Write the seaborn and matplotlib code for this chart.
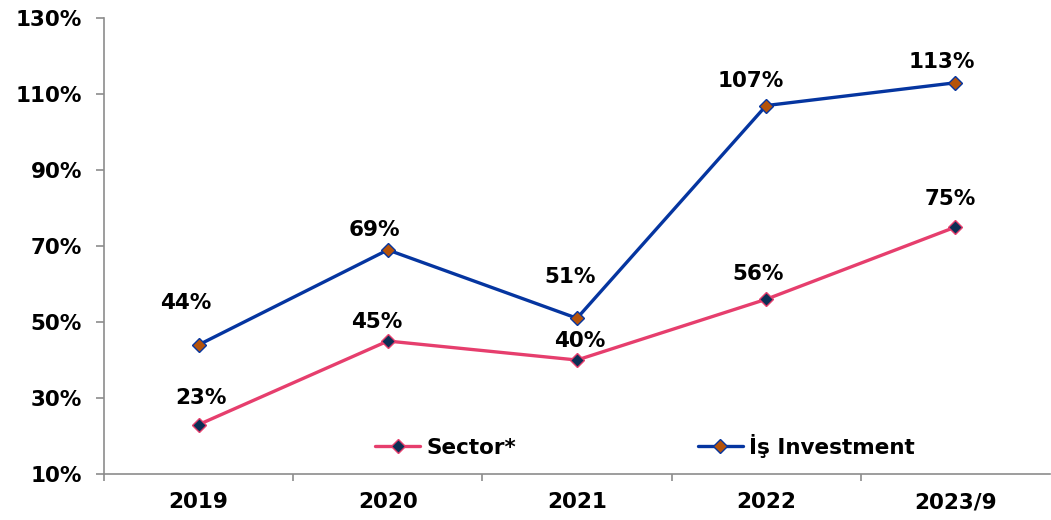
import matplotlib
matplotlib.use("Agg")
import matplotlib.pyplot as plt
import seaborn as sns
import pandas as pd
from matplotlib.ticker import FixedLocator

years = ["2019", "2020", "2021", "2022", "2023/9"]
sector = [23, 45, 40, 56, 75]
is_inv = [44, 69, 51, 107, 113]
series_names = ["Sector*", "İş Investment"]
y_ticks = [10, 30, 50, 70, 90, 110, 130]

sns.set_style("white")
plt.rcParams["font.family"] = ["DejaVu Sans"]
plt.rcParams["font.weight"] = "bold"
plt.rcParams["text.color"] = "black"
plt.rcParams["xtick.color"] = "black"
plt.rcParams["ytick.color"] = "black"

FS = 15.5

fig = plt.figure(figsize=(10.51, 5.2), dpi=100)
ax = fig.add_axes([0.099, 0.0885, 0.9, 0.8765])

pos = list(range(len(years)))
df_s = pd.DataFrame({"x": pos, "y": sector})
df_i = pd.DataFrame({"x": pos, "y": is_inv})

pink = "#E63E6D"
blue = "#0535A0"
sns.lineplot(data=df_s, x="x", y="y", ax=ax, color=pink, lw=2.4, marker="D",
             markersize=7.5, label=series_names[0])
sns.lineplot(data=df_i, x="x", y="y", ax=ax, color=blue, lw=2.4, marker="D",
             markersize=7.5, label=series_names[1])
styles = [("#0C2F55", pink), ("#B5530A", blue)]
for line, (fc, ec) in zip(ax.lines, styles):
    line.set_markerfacecolor(fc)
    line.set_markeredgecolor(ec)
    line.set_markeredgewidth(1.0)

# label offsets in points (dx, dy)
off_s = [(1.5, 19.5), (-8, 14), (2, 14), (-6, 18), (-4, 20)]
off_i = [(-9.5, 30), (-10, 14), (-5, 30), (-11.5, 18), (-9.5, 15)]
for vals, offs in ((sector, off_s), (is_inv, off_i)):
    for x, v, (dx, dy) in zip(pos, vals, offs):
        ax.annotate(f"{v}%", (x, v), xytext=(dx, dy), textcoords="offset points",
                    ha="center", va="center", fontsize=FS, fontweight="bold",
                    color="black")

ax.set_xlim(-0.5, len(years) - 0.5)
ax.set_ylim(10, 130)
ax.set_yticks(y_ticks)
ax.set_yticklabels([f"{t}%" for t in y_ticks])
ax.set_xticks(pos)
ax.set_xticklabels(years)
ax.xaxis.set_minor_locator(FixedLocator([p + 0.5 for p in pos[:-1]] + [-0.5]))
ax.set_xlabel("")
ax.set_ylabel("")

for side in ("top", "right"):
    ax.spines[side].set_visible(False)
for side in ("left", "bottom"):
    ax.spines[side].set_color("#8C8C8C")
    ax.spines[side].set_linewidth(1.2)

ax.tick_params(axis="y", which="major", left=True, length=6, width=1.2,
               color="#8C8C8C", labelcolor="black", pad=10, labelsize=FS)
ax.tick_params(axis="x", which="major", bottom=False, length=0, pad=13,
               labelcolor="black", labelsize=FS)
ax.tick_params(axis="x", which="minor", bottom=True, length=5, width=1.2,
               color="#8C8C8C")
for lab in ax.get_xticklabels() + ax.get_yticklabels():
    lab.set_fontweight("bold")

leg = ax.legend(loc="center", bbox_to_anchor=(0.572, 0.062), ncol=2, frameon=False,
                fontsize=FS, handlelength=2.1, handletextpad=0.3,
                columnspacing=8.4, borderpad=0)
for t in leg.get_texts():
    t.set_fontweight("bold")
    t.set_color("black")

fig.savefig("out.png", dpi=100)
